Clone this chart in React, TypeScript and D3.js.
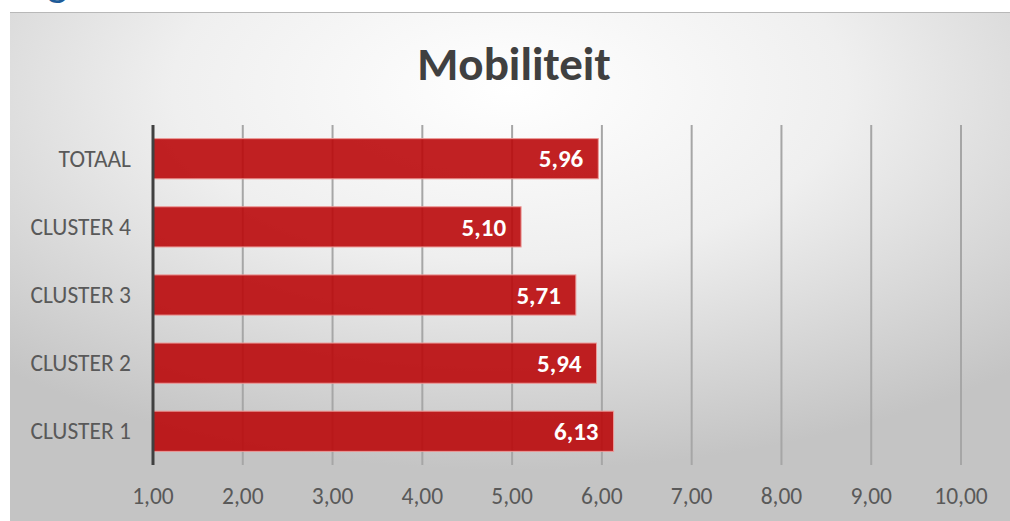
import React from "react";
import * as d3 from "d3";

const categories = ["TOTAAL", "CLUSTER 4", "CLUSTER 3", "CLUSTER 2", "CLUSTER 1"];
const values = [5.96, 5.1, 5.71, 5.94, 6.13];
const tickValues = [1, 2, 3, 4, 5, 6, 7, 8, 9, 10];

const W = 1010;
const H = 521;
const margin = { top: 125, right: 49, bottom: 56, left: 153 };

const fmt = (v: number) => v.toFixed(2).replace(".", ",");
const font = "Carlito, 'Open Sans', 'Liberation Sans', sans-serif";

const App: React.FC = () => {
  const x = d3
    .scaleLinear()
    .domain([1, 10])
    .range([margin.left, W - margin.right]);
  const y = d3
    .scaleBand()
    .domain(categories)
    .range([margin.top, H - margin.bottom])
    .paddingInner(0.41)
    .paddingOuter(0.2);

  const bottom = H - margin.bottom;

  return (
    <div style={{ position: "absolute", left: 0, top: 0 }}>
      <svg width={W} height={H} style={{ display: "block" }}>
        <defs>
          <radialGradient id="bg" cx="0.5" cy="0.15" r="0.75">
            <stop offset="0" stopColor="#ffffff" />
            <stop offset="0.45" stopColor="#efefef" />
            <stop offset="1" stopColor="#c4c4c4" />
          </radialGradient>
        </defs>
        <rect x={0} y={0} width={W} height={H} fill="#ffffff" />
        <text x={47} y={-4} fontSize={44} fill="#1f5c99" fontFamily={font}>
          g
        </text>
        <rect x={10} y={12} width={W - 10} height={H - 12} fill="url(#bg)" />
        <line x1={10} x2={W} y1={12.5} y2={12.5} stroke="#b8b8b8" strokeWidth={1} />

        <text
          x={514}
          y={80}
          textAnchor="middle"
          fontSize={47}
          fontWeight="bold"
          fill="#404040"
          fontFamily={font}
        >
          Mobiliteit
        </text>

        {tickValues.slice(1).map((t) => (
          <line
            key={t}
            x1={x(t)}
            x2={x(t)}
            y1={margin.top}
            y2={bottom}
            stroke="#a6a6a6"
            strokeWidth={2}
          />
        ))}

        {categories.map((c, i) => (
          <g key={c}>
            <rect
              x={x(1)}
              y={y(c)}
              width={x(values[i]) - x(1)}
              height={y.bandwidth()}
              fill="#ba090b"
              fillOpacity={0.9}
              stroke="#ec9a98"
              strokeWidth={1}
            />
            <text
              x={x(values[i]) - 15}
              y={(y(c) as number) + y.bandwidth() / 2}
              dy="0.35em"
              textAnchor="end"
              fontSize={25}
              fontWeight="bold"
              fill="#ffffff"
              fontFamily={font}
            >
              {fmt(values[i])}
            </text>
            <text
              x={131}
              y={(y(c) as number) + y.bandwidth() / 2}
              dy="0.35em"
              textAnchor="end"
              fontSize={23.5}
              fill="#595959"
              fontFamily={font}
            >
              {c}
            </text>
          </g>
        ))}

        <line
          x1={x(1)}
          x2={x(1)}
          y1={margin.top}
          y2={bottom}
          stroke="#404040"
          strokeWidth={3}
        />

        {tickValues.map((t) => (
          <text
            key={t}
            x={x(t)}
            y={496}
            dy="0.35em"
            textAnchor="middle"
            fontSize={23.5}
            fill="#595959"
            fontFamily={font}
          >
            {fmt(t)}
          </text>
        ))}
      </svg>
    </div>
  );
};

export default App;
